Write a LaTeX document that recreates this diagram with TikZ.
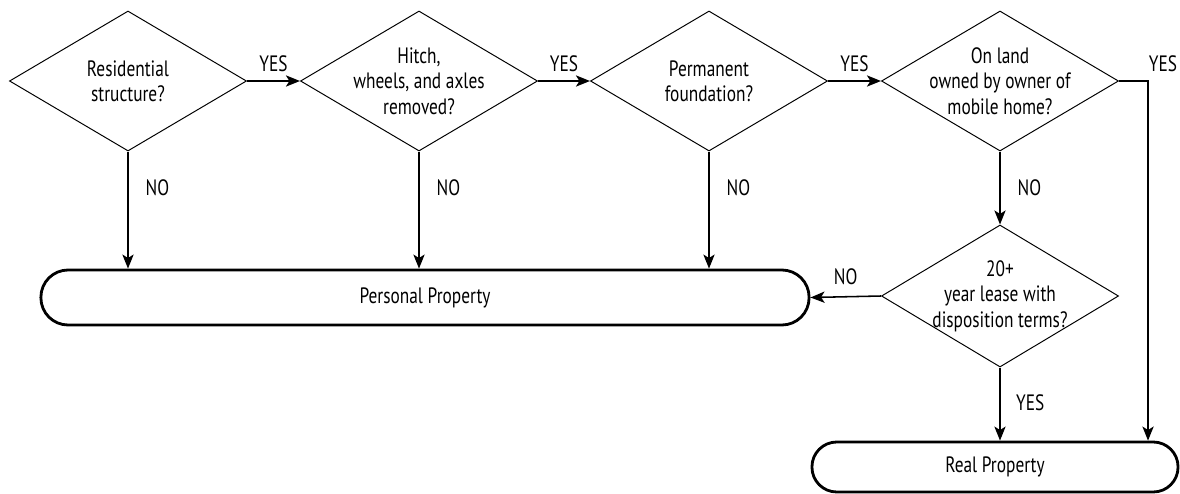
\documentclass[tikz,border=0pt]{standalone}
\usepackage{fontspec}
\setmainfont{PT Sans}[FakeStretch=0.78]
\usepackage{tikz}
\usetikzlibrary{shapes.geometric,arrows.meta}

\begin{document}
\begin{tikzpicture}[x=0.025cm,y=-0.025cm,
        font=\fontsize{15.8}{18}\selectfont,
        decision/.style={diamond,draw,line width=0.7pt,inner sep=0pt,
            minimum width=5.925cm,minimum height=3.5cm},
        qtext/.style={align=center,inner sep=0pt},
        outcome/.style={rectangle,draw,line width=2pt,rounded corners=0.62cm},
        arr/.style={-{Stealth[length=10pt,width=8pt,inset=2.5pt]},line width=1.1pt},
        lbl/.style={inner sep=0pt}]
    \useasboundingbox (0,0) rectangle (1180,494);

    % questions
    \node (q1) [decision,label={[qtext]center:{Residential\\structure?}}] at (128,81) {};
    \node (q2) [decision,label={[qtext]center:{Hitch,\\wheels, and axles\\removed?}}] at (419,81) {};
    \node (q3) [decision,label={[qtext]center:{Permanent\\foundation?}}] at (709,81) {};
    \node (q4) [decision,label={[qtext]center:{On land\\owned by owner of\\mobile home?}}] at (1000,81) {};
    \node (q5) [decision,minimum height=3.55cm,
        label={[qtext]center:{20+\\year lease with\\disposition terms?}}] at (1000,296) {};

    % results
    \node (pp) [outcome,rounded corners=0.68cm,minimum width=19.2cm,minimum height=1.375cm] at (425,297.5) {Personal Property};
    \node (rp) [outcome,minimum width=9.15cm,minimum height=1.25cm] at (995,467) {Real Property};

    % yes
    \draw[arr] (q1.east) -- node[lbl,above=6pt] {YES} (q2.west);
    \draw[arr] (q2.east) -- node[lbl,above=6pt] {YES} (q3.west);
    \draw[arr] (q3.east) -- node[lbl,above=6pt] {YES} (q4.west);
    \draw[arr] (q4.east) -- ++(29,0) coordinate (turn)
        node[lbl,above=6pt,xshift=0.375cm] {YES} -- (turn |- rp.north);
    \draw[arr] (q5.south) -- node[lbl,right=11pt,pos=0.48] {YES} (q5.south |- rp.north);

    % no
    \draw[arr] (q1.south) -- node[lbl,right=12pt,pos=0.31] {NO} (q1.south |- pp.north);
    \draw[arr] (q2.south) -- node[lbl,right=12pt,pos=0.31] {NO} (q2.south |- pp.north);
    \draw[arr] (q3.south) -- node[lbl,right=12pt,pos=0.31] {NO} (q3.south |- pp.north);
    \draw[arr] (q4.south) -- node[lbl,right=12pt,pos=0.5] {NO} (q5.north);
    \draw[arr] (q5.west) -- node[lbl,above=8pt] {NO} (pp.east);
\end{tikzpicture}
\end{document}
